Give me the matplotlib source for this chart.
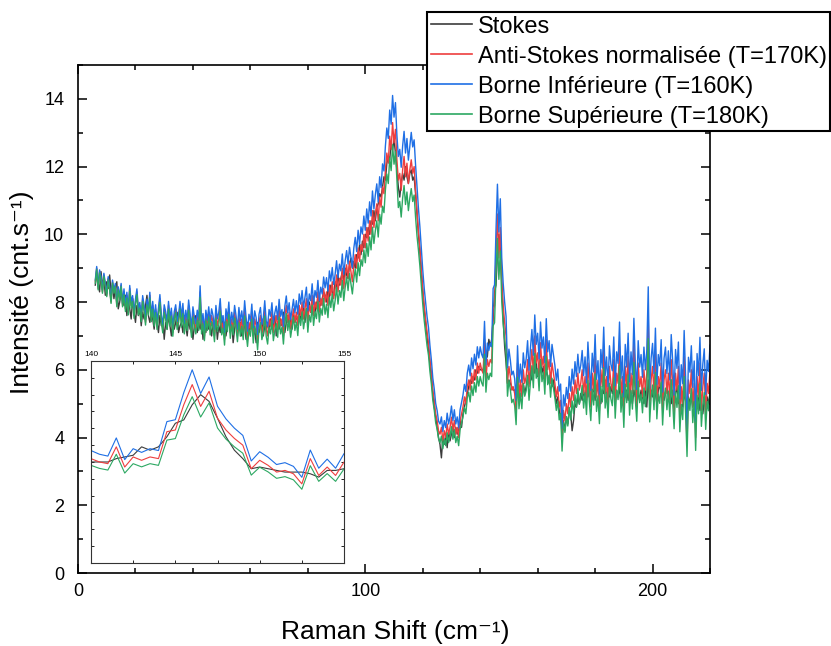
import numpy as np
import matplotlib
matplotlib.use("Agg")
import matplotlib.pyplot as plt
from matplotlib.ticker import MultipleLocator

plt.rcParams['font.family'] = ['Liberation Sans', 'DejaVu Sans']

# Raman shift sampling (cm^-1): 6.0 ... 220.0, step 0.5
raman_shift = np.arange(6.0, 220.01, 0.5)

stokes = [
    8.5, 8.8, 8.6, 8.3, 8.9, 8.5, 8.7, 8.2, 8.6, 8.4, 8.8, 8.3, 8.5, 8.1, 8.4, 8.6, 7.8, 8.0, 8.3, 8.1,
    7.9, 8.2, 7.6, 8.0, 7.8, 7.5, 8.1, 7.7, 7.4, 7.9, 7.6, 7.8, 7.3, 7.7, 7.5, 7.9, 8.2, 7.6, 7.4, 7.7,
    7.5, 7.2, 7.7, 7.4, 7.1, 7.6, 7.3, 7.5, 6.9, 7.4, 7.2, 7.6, 7.3, 7.0, 7.5, 7.2, 7.4, 7.7, 7.1, 7.3,
    7.4, 7.1, 7.6, 7.3, 7.0, 7.5, 7.2, 7.4, 6.9, 7.3, 7.6, 7.1, 7.4, 7.2, 7.5, 6.9, 7.3, 7.1, 7.5, 7.2,
    7.3, 7.0, 7.4, 7.2, 7.5, 6.9, 7.3, 7.1, 7.6, 7.2, 7.4, 7.0, 7.3, 7.5, 7.1, 7.4, 6.8, 7.2, 7.5, 7.3,
    7.2, 7.4, 7.0, 7.5, 7.3, 6.9, 7.4, 7.1, 7.3, 7.6, 7.0, 7.2, 6.8, 7.4, 7.1, 7.3, 7.5, 7.0, 7.3, 7.2,
    7.4, 7.1, 7.5, 7.2, 7.3, 7.6, 7.0, 7.4, 7.2, 7.5, 7.3, 7.7, 7.1, 7.4, 7.6, 7.3, 7.5, 7.2, 7.6, 7.4,
    7.6, 7.4, 7.8, 7.5, 7.7, 7.9, 7.4, 7.8, 7.6, 8.0, 7.7, 7.9, 8.1, 7.7, 8.0, 7.8, 8.2, 7.9, 8.1, 8.3,
    8.2, 8.0, 8.4, 8.1, 8.5, 8.3, 8.2, 8.6, 8.4, 8.8, 8.5, 8.7, 8.9, 8.6, 9.0, 8.8, 8.7, 9.1, 9.3, 9.0,
    9.2, 9.0, 9.4, 9.3, 9.7, 9.4, 9.8, 9.6, 10.0, 9.9, 10.2, 10.0, 10.4, 10.3, 10.7, 10.4, 10.8, 10.9, 11.2, 11.1,
    11.4, 11.7, 11.6, 12.1, 12.3, 12.2, 12.7, 12.5, 12.8, 12.4, 11.9, 11.4, 11.1, 11.5, 11.8, 11.6, 12.0, 11.7, 11.5, 11.8,
    11.9, 11.6, 11.7, 11.2, 10.6, 10.0, 9.5, 8.9, 8.3, 7.8, 7.4, 7.0, 6.6, 6.2, 5.8, 5.3, 4.9, 4.6, 4.3, 4.0,
    3.8, 3.4, 4.0, 3.8, 4.1, 3.7, 4.2, 3.9, 4.1, 4.4, 4.0, 4.3, 4.1, 4.2, 4.5, 4.3, 4.7, 4.9, 5.1, 5.3,
    5.5, 5.7, 5.6, 5.8, 5.7, 6.0, 5.9, 6.1, 6.0, 6.0, 6.0, 6.2, 6.3, 6.4, 6.9, 6.7, 6.9, 7.5, 8.3, 8.5,
    9.4, 10.0, 9.6, 8.6, 7.5, 6.7, 6.2, 5.6, 5.7, 5.6, 5.5, 5.4, 5.4, 5.4, 5.3, 5.1, 5.5, 5.5, 5.6, 5.3,
    5.5, 5.8, 5.6, 6.0, 5.7, 6.1, 5.9, 6.2, 5.8, 6.0, 6.3, 5.9, 6.1, 5.7, 6.0, 5.8, 5.6, 5.9, 5.5, 5.7,
    5.3, 5.0, 5.2, 4.8, 4.6, 4.3, 4.5, 4.2, 4.6, 4.4, 4.8, 4.7, 4.2, 4.5, 5.0, 4.9, 5.2, 5.0, 5.3, 5.1,
    5.4, 5.1, 5.5, 5.2, 5.6, 5.0, 5.3, 5.5, 5.1, 5.4, 5.6, 5.2, 5.0, 5.4, 5.3, 5.7, 5.1, 5.4, 5.2, 5.5,
    5.3, 5.6, 5.1, 5.4, 5.2, 5.5, 5.0, 5.3, 5.6, 5.2, 5.4, 5.1, 5.5, 5.3, 5.0, 5.4, 5.2, 5.6, 5.3, 5.1,
    5.4, 5.2, 5.0, 5.5, 4.9, 5.7, 5.1, 5.4, 5.2, 5.5, 5.3, 5.0, 5.4, 5.6, 5.2, 5.4, 5.1, 5.3, 5.5, 5.2,
    5.3, 5.0, 5.4, 5.1, 5.3, 5.5, 5.0, 5.2, 5.4, 4.9, 5.3, 5.1, 4.8, 5.2, 5.0, 5.3, 4.9, 5.1, 4.7, 5.0,
    5.2, 4.8, 5.0, 4.7, 5.1, 4.9, 5.2, 5.0, 5.3,
]

anti_stokes_170K = [
    8.6, 9.0, 8.4, 8.9, 8.7, 8.3, 8.8, 8.5, 8.2, 8.7, 8.4, 8.0, 8.6, 8.3, 8.5, 7.9, 8.4, 8.1, 8.5, 7.9,
    8.3, 7.8, 8.2, 7.7, 8.4, 7.9, 8.1, 7.6, 8.0, 8.3, 7.7, 7.9, 7.5, 8.1, 7.8, 7.4, 8.0, 7.7, 8.2, 7.5,
    7.9, 7.4, 7.8, 7.3, 7.7, 8.1, 7.5, 7.2, 7.8, 7.6, 7.3, 7.9, 7.4, 7.7, 7.1, 7.6, 7.8, 7.3, 7.5, 7.9,
    7.4, 7.8, 7.2, 7.6, 7.3, 7.9, 7.5, 7.1, 7.7, 7.4, 7.2, 7.6, 7.3, 8.3, 7.2, 7.5, 7.0, 7.6, 7.3, 7.7,
    7.2, 7.6, 7.4, 7.0, 7.7, 7.3, 7.5, 7.9, 7.2, 7.4, 6.9, 7.6, 7.3, 7.8, 7.1, 7.5, 7.2, 7.7, 7.4, 7.0,
    7.6, 7.2, 7.5, 7.1, 7.8, 7.3, 6.9, 7.4, 7.2, 7.7, 7.0, 7.5, 7.3, 6.8, 7.4, 7.6, 7.1, 7.3, 7.8, 7.2,
    7.0, 7.5, 7.3, 7.7, 7.1, 7.4, 7.6, 7.2, 7.8, 7.3, 7.5, 7.0, 7.6, 7.9, 7.4, 7.7, 7.2, 7.5, 7.8, 7.4,
    7.7, 7.3, 7.9, 7.6, 8.0, 7.5, 7.8, 8.1, 7.4, 7.9, 7.7, 8.2, 7.6, 8.0, 7.8, 8.3, 7.7, 8.1, 7.9, 8.4,
    8.0, 8.3, 7.9, 8.5, 8.2, 8.6, 8.1, 8.4, 8.8, 8.3, 8.7, 8.5, 9.0, 8.4, 8.8, 9.1, 8.7, 9.2, 8.9, 8.6,
    9.1, 9.4, 9.0, 9.6, 9.2, 9.7, 9.5, 10.0, 9.6, 10.2, 9.8, 10.4, 10.0, 10.7, 10.2, 10.6, 10.9, 10.4, 11.1, 10.8,
    11.4, 11.2, 11.9, 12.4, 12.1, 12.9, 12.5, 13.3, 12.7, 13.1, 12.2, 11.6, 11.8, 11.3, 11.9, 12.3, 11.7, 12.1, 11.5, 11.9,
    12.2, 11.8, 12.0, 11.3, 10.7, 10.1, 9.6, 9.0, 8.4, 7.9, 7.5, 7.1, 6.8, 6.3, 5.9, 5.4, 5.1, 4.7, 4.5, 4.2,
    4.1, 4.3, 3.9, 4.2, 4.0, 4.4, 4.1, 4.3, 4.6, 4.2, 4.5, 4.1, 4.3, 4.0, 4.5, 4.7, 4.9, 5.2, 5.0, 5.5,
    5.7, 5.4, 5.9, 5.6, 6.0, 5.7, 6.2, 5.9, 6.2, 6.0, 5.9, 6.9, 5.7, 6.3, 6.1, 6.3, 6.2, 7.8, 7.9, 9.4,
    10.6, 9.3, 10.2, 8.6, 7.9, 7.4, 7.0, 5.6, 6.1, 5.8, 5.4, 5.5, 5.3, 4.7, 6.2, 5.2, 5.7, 5.2, 6.0, 5.6,
    5.8, 6.3, 5.5, 6.1, 6.6, 5.9, 7.0, 6.2, 6.5, 5.8, 6.8, 6.1, 6.4, 5.7, 6.9, 6.0, 6.3, 5.6, 6.2, 5.9,
    5.6, 5.2, 5.5, 4.9, 5.1, 3.9, 4.8, 4.5, 5.0, 4.7, 5.3, 4.9, 5.5, 5.1, 5.7, 5.3, 5.9, 5.4, 5.6, 6.0,
    5.3, 5.8, 5.1, 6.2, 5.5, 4.9, 5.9, 5.4, 6.4, 5.2, 5.7, 4.8, 6.0, 5.5, 6.6, 5.3, 5.8, 5.0, 6.1, 5.6,
    5.4, 6.3, 5.0, 5.9, 5.6, 6.7, 5.2, 5.8, 4.7, 6.1, 5.5, 6.4, 5.1, 5.9, 5.3, 6.8, 5.6, 4.9, 6.2, 5.5,
    5.8, 5.2, 6.0, 5.4, 5.9, 7.6, 4.9, 5.7, 6.1, 5.3, 6.5, 5.0, 5.8, 5.5, 6.2, 4.8, 5.7, 6.0, 5.3, 5.9,
    5.1, 6.3, 5.6, 4.7, 5.9, 5.4, 6.1, 4.6, 5.5, 5.0, 6.4, 5.2, 3.8, 5.7, 5.3, 6.0, 4.9, 5.6, 4.0, 5.8,
    5.2, 6.2, 4.8, 5.5, 5.9, 4.7, 5.6, 5.3, 6.0,
]

borne_inf_160K = [
    8.65, 9.05, 8.45, 8.95, 8.75, 8.35, 8.85, 8.55, 8.25, 8.75, 8.45, 8.05, 8.65, 8.35, 8.55, 7.95, 8.45, 8.15, 8.55, 7.95,
    8.39, 7.89, 8.29, 7.79, 8.49, 7.99, 8.19, 7.69, 8.09, 8.39, 7.79, 7.99, 7.59, 8.19, 7.89, 7.49, 8.09, 7.79, 8.29, 7.59,
    8.02, 7.52, 7.92, 7.42, 7.82, 8.22, 7.62, 7.32, 7.92, 7.72, 7.42, 8.02, 7.52, 7.82, 7.22, 7.72, 7.92, 7.42, 7.62, 8.02,
    7.56, 7.96, 7.36, 7.76, 7.46, 8.06, 7.66, 7.26, 7.86, 7.56, 7.36, 7.76, 7.46, 8.48, 7.36, 7.66, 7.16, 7.76, 7.46, 7.86,
    7.40, 7.80, 7.60, 7.20, 7.90, 7.50, 7.70, 8.10, 7.40, 7.60, 7.10, 7.80, 7.50, 8.00, 7.30, 7.70, 7.40, 7.90, 7.60, 7.20,
    7.84, 7.44, 7.74, 7.34, 8.04, 7.54, 7.14, 7.64, 7.44, 7.94, 7.24, 7.74, 7.54, 7.04, 7.64, 7.84, 7.34, 7.54, 8.04, 7.44,
    7.28, 7.78, 7.58, 7.98, 7.38, 7.68, 7.88, 7.48, 8.08, 7.58, 7.78, 7.28, 7.88, 8.18, 7.68, 7.98, 7.48, 7.78, 8.08, 7.68,
    8.04, 7.64, 8.24, 7.94, 8.34, 7.84, 8.14, 8.44, 7.74, 8.24, 8.04, 8.54, 7.94, 8.34, 8.14, 8.64, 8.04, 8.44, 8.24, 8.74,
    8.42, 8.72, 8.32, 8.92, 8.62, 9.02, 8.52, 8.82, 9.22, 8.72, 9.12, 8.92, 9.42, 8.82, 9.22, 9.52, 9.12, 9.62, 9.32, 9.02,
    9.59, 9.91, 9.49, 10.12, 9.70, 10.22, 10.01, 10.54, 10.12, 10.75, 10.33, 10.96, 10.54, 11.28, 10.75, 11.17, 11.49, 10.96, 11.70, 11.38,
    12.08, 11.87, 12.61, 13.14, 12.83, 13.67, 13.25, 14.10, 13.46, 13.89, 12.93, 12.30, 12.51, 11.98, 12.61, 13.04, 12.40, 12.83, 12.19, 12.61,
    13.01, 12.58, 12.79, 12.05, 11.41, 10.77, 10.23, 9.59, 8.95, 8.42, 8.00, 7.57, 7.25, 6.72, 6.29, 5.76, 5.44, 5.01, 4.80, 4.48,
    4.40, 4.61, 4.18, 4.50, 4.29, 4.72, 4.40, 4.61, 4.93, 4.50, 4.82, 4.40, 4.61, 4.29, 4.82, 5.04, 5.25, 5.57, 5.36, 5.90,
    6.14, 5.82, 6.35, 6.03, 6.46, 6.14, 6.68, 6.35, 6.68, 6.46, 6.35, 7.43, 6.14, 6.79, 6.57, 6.79, 6.68, 8.40, 8.51, 10.12,
    11.48, 10.07, 11.05, 9.31, 8.56, 8.01, 7.58, 6.06, 6.61, 6.28, 5.85, 5.96, 5.74, 5.09, 6.71, 5.63, 6.17, 5.63, 6.50, 6.06,
    6.32, 6.86, 5.99, 6.64, 7.19, 6.43, 7.62, 6.75, 7.08, 6.32, 7.41, 6.64, 6.97, 6.21, 7.51, 6.53, 6.86, 6.10, 6.75, 6.43,
    6.13, 5.69, 6.02, 5.37, 5.58, 4.27, 5.26, 4.93, 5.48, 5.15, 5.80, 5.37, 6.02, 5.58, 6.24, 5.80, 6.46, 5.91, 6.13, 6.57,
    5.83, 6.38, 5.61, 6.82, 6.05, 5.39, 6.49, 5.94, 7.04, 5.72, 6.27, 5.28, 6.60, 6.05, 7.26, 5.83, 6.38, 5.50, 6.71, 6.16,
    5.97, 6.97, 5.53, 6.53, 6.19, 7.41, 5.75, 6.41, 5.20, 6.75, 6.08, 7.08, 5.64, 6.53, 5.86, 7.52, 6.19, 5.42, 6.86, 6.08,
    6.45, 5.78, 6.67, 6.00, 6.56, 8.45, 5.45, 6.34, 6.78, 5.89, 7.23, 5.56, 6.45, 6.12, 6.89, 5.34, 6.34, 6.67, 5.89, 6.56,
    5.70, 7.04, 6.26, 5.25, 6.60, 6.04, 6.82, 5.14, 6.15, 5.59, 7.16, 5.81, 4.25, 6.37, 5.93, 6.71, 5.48, 6.26, 4.47, 6.48,
    5.83, 6.96, 5.39, 6.17, 6.62, 5.27, 6.28, 5.95, 6.73,
]

borne_sup_180K = [
    8.56, 8.96, 8.36, 8.86, 8.66, 8.26, 8.76, 8.46, 8.16, 8.66, 8.36, 7.96, 8.56, 8.26, 8.46, 7.86, 8.36, 8.06, 8.46, 7.86,
    8.22, 7.72, 8.12, 7.62, 8.32, 7.82, 8.02, 7.52, 7.92, 8.22, 7.62, 7.82, 7.42, 8.02, 7.72, 7.32, 7.92, 7.62, 8.12, 7.42,
    7.79, 7.29, 7.69, 7.19, 7.59, 7.99, 7.39, 7.09, 7.69, 7.49, 7.19, 7.79, 7.29, 7.59, 6.99, 7.49, 7.69, 7.19, 7.39, 7.79,
    7.26, 7.66, 7.06, 7.46, 7.16, 7.76, 7.36, 6.96, 7.56, 7.26, 7.06, 7.46, 7.16, 8.14, 7.06, 7.36, 6.86, 7.46, 7.16, 7.56,
    7.03, 7.43, 7.23, 6.83, 7.53, 7.13, 7.33, 7.73, 7.03, 7.23, 6.73, 7.43, 7.13, 7.63, 6.93, 7.33, 7.03, 7.53, 7.23, 6.83,
    7.39, 6.99, 7.29, 6.89, 7.59, 7.09, 6.69, 7.19, 6.99, 7.49, 6.79, 7.29, 7.09, 6.59, 7.19, 7.39, 6.89, 7.09, 7.59, 6.99,
    6.76, 7.26, 7.06, 7.46, 6.86, 7.16, 7.36, 6.96, 7.56, 7.06, 7.26, 6.76, 7.36, 7.66, 7.16, 7.46, 6.96, 7.26, 7.56, 7.16,
    7.41, 7.01, 7.61, 7.31, 7.71, 7.21, 7.51, 7.81, 7.11, 7.61, 7.41, 7.91, 7.31, 7.71, 7.51, 8.01, 7.41, 7.81, 7.61, 8.11,
    7.64, 7.94, 7.54, 8.14, 7.84, 8.24, 7.74, 8.04, 8.44, 7.94, 8.34, 8.14, 8.64, 8.04, 8.44, 8.74, 8.34, 8.84, 8.54, 8.24,
    8.68, 8.97, 8.59, 9.16, 8.78, 9.25, 9.06, 9.54, 9.16, 9.73, 9.35, 9.92, 9.54, 10.21, 9.73, 10.11, 10.40, 9.92, 10.59, 10.30,
    10.83, 10.64, 11.31, 11.78, 11.50, 12.26, 11.88, 12.64, 12.07, 12.45, 11.59, 10.79, 10.97, 10.51, 11.07, 11.44, 10.88, 11.25, 10.70, 11.07,
    11.35, 10.97, 11.16, 10.51, 9.95, 9.54, 9.07, 8.51, 7.94, 7.47, 7.09, 6.71, 6.43, 5.95, 5.58, 5.10, 4.82, 4.44, 4.25, 3.97,
    3.85, 4.04, 3.67, 3.95, 3.76, 4.14, 3.85, 4.04, 4.32, 3.95, 4.23, 3.85, 4.04, 3.76, 4.23, 4.42, 4.61, 4.89, 4.70, 5.17,
    5.34, 5.05, 5.52, 5.24, 5.62, 5.34, 5.80, 5.52, 5.80, 5.62, 5.52, 6.46, 5.34, 5.90, 5.71, 5.90, 5.80, 7.30, 7.39, 8.80,
    9.88, 8.67, 9.51, 8.02, 7.36, 6.90, 6.52, 5.22, 5.69, 5.41, 5.03, 5.13, 4.94, 4.38, 5.78, 4.85, 5.31, 4.85, 5.59, 5.22,
    5.38, 5.84, 5.10, 5.65, 6.12, 5.47, 6.49, 5.75, 6.03, 5.38, 6.30, 5.65, 5.93, 5.28, 6.40, 5.56, 5.84, 5.19, 5.75, 5.47,
    5.17, 4.80, 5.08, 4.52, 4.71, 3.60, 4.43, 4.15, 4.62, 4.34, 4.89, 4.52, 5.08, 4.71, 5.26, 4.89, 5.45, 4.98, 5.17, 5.54,
    4.87, 5.32, 4.68, 5.69, 5.05, 4.50, 5.42, 4.96, 5.88, 4.77, 5.23, 4.41, 5.51, 5.05, 6.06, 4.87, 5.32, 4.59, 5.60, 5.14,
    4.94, 5.76, 4.57, 5.39, 5.12, 6.12, 4.75, 5.30, 4.30, 5.58, 5.03, 5.85, 4.66, 5.39, 4.84, 6.22, 5.12, 4.48, 5.67, 5.03,
    5.28, 4.73, 5.46, 4.91, 5.37, 6.92, 4.46, 5.19, 5.55, 4.82, 5.92, 4.55, 5.28, 5.01, 5.64, 4.37, 5.19, 5.46, 4.82, 5.37,
    4.62, 5.71, 5.07, 4.26, 5.35, 4.89, 5.53, 4.17, 4.98, 4.53, 5.80, 4.71, 3.44, 5.16, 4.80, 5.44, 4.44, 5.07, 3.62, 5.25,
    4.70, 5.60, 4.33, 4.97, 5.33, 4.24, 5.06, 4.79, 5.42,
]

series_labels = [
    "Stokes",
    "Anti-Stokes normalisée (T=170K)",
    "Borne Inférieure (T=160K)",
    "Borne Supérieure (T=180K)",
]
series_colors = ["#3c3c3c", "#ee3e3e", "#1f6fe5", "#2ca862"]
series_values = [stokes, anti_stokes_170K, borne_inf_160K, borne_sup_180K]

inset_xticks = [140, 145, 150, 155]

fig = plt.figure(figsize=(8.31, 6.46), dpi=100)
ax = fig.add_axes([0.0939, 0.1130, 0.7605, 0.7864])

for vals, col, lab in zip(series_values, series_colors, series_labels):
    ax.plot(raman_shift, vals, color=col, lw=1.0, label=lab)

ax.set_xlim(0, 220)
ax.set_ylim(0, 15)
ax.xaxis.set_major_locator(MultipleLocator(100))
ax.xaxis.set_minor_locator(MultipleLocator(20))
ax.yaxis.set_major_locator(MultipleLocator(2))
ax.yaxis.set_minor_locator(MultipleLocator(1))
ax.tick_params(which='both', direction='in', top=True, right=True, width=1.1)
ax.tick_params(which='major', length=6.5)
ax.tick_params(which='minor', length=3.6)
ax.tick_params(axis='x', labelsize=13, pad=7)
ax.tick_params(axis='y', labelsize=13, pad=10)
for s in ax.spines.values():
    s.set_linewidth(1.2)

ax.set_xlabel("Raman Shift (cm⁻¹)", fontsize=19)
ax.set_ylabel("Intensité (cnt.s⁻¹)", fontsize=19)
ax.xaxis.set_label_coords(0.502, -0.092)
ax.yaxis.set_label_coords(-0.07, 0.553)

leg = ax.legend(loc='upper left', bbox_to_anchor=(0.5138, 0.9814),
                bbox_transform=fig.transFigure, fontsize=17, frameon=True,
                fancybox=False, edgecolor='black', framealpha=1,
                borderpad=0.15, labelspacing=0.34, handlelength=1.75,
                handletextpad=0.25, borderaxespad=0)
leg.get_frame().set_linewidth(1.5)
for h in leg.get_lines():
    h.set_linewidth(1.2)

# Inset: zoom on the 140-155 cm^-1 region
axin = fig.add_axes([0.1095, 0.1285, 0.3045, 0.3127])
for vals, col in zip(series_values, series_colors):
    axin.plot(raman_shift, vals, color=col, lw=0.8)
axin.set_xlim(140, 155)
axin.set_ylim(0, 12)
axin.set_xticks(inset_xticks)
axin.xaxis.set_minor_locator(MultipleLocator(2.5))
axin.yaxis.set_major_locator(MultipleLocator(1))
axin.tick_params(which='both', direction='in', top=True, bottom=True, left=True,
                 right=True, labeltop=True, labelbottom=False, labelleft=False,
                 length=2.5, width=0.6, labelsize=6, pad=2)
for s in axin.spines.values():
    s.set_linewidth(0.8)
    s.set_color('#333333')

fig.savefig("out.png", dpi=100)
